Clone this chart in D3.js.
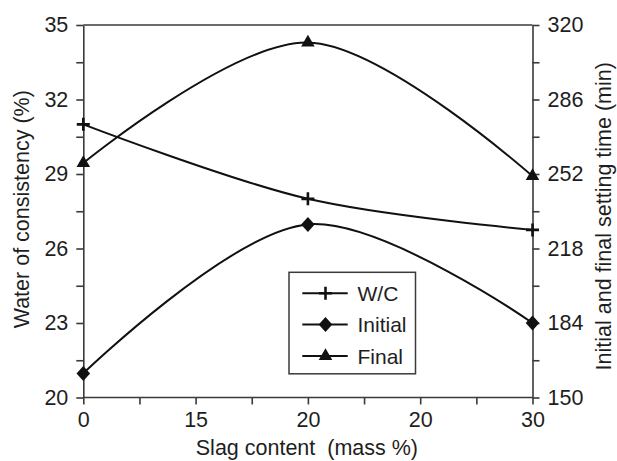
<!DOCTYPE html>
<html>
<head>
<meta charset="utf-8">
<script src="https://cdn.jsdelivr.net/npm/d3@7"></script>
<style>
  html, body { margin: 0; padding: 0; background: #fff; }
  svg { display: block; font-family: "Liberation Sans", Arial, Helvetica, sans-serif; }
  .axis path, .axis line { stroke: #3a3a3a; stroke-width: 1.6px; }
  .axis text { fill: #1e1e1e; font-size: 21.5px; font-family: "Liberation Sans", Arial, sans-serif; }
  .title { fill: #1e1e1e; font-size: 21.5px; white-space: pre; }
</style>
</head>
<body>
<svg id="chart" width="617" height="461"></svg>
<script>
// Slag content tick labels along the bottom axis (as printed)
const xTickLabels = ["0", "15", "20", "20", "30"];
// Tick index at which each measured sample sits
const sampleTick = [0, 2, 4];

// Water of consistency (%), left axis
const waterConsistency = [31, 28, 26.75];
// Initial setting time (min), right axis
const initialSetting = [161, 229, 184];
// Final setting time (min), right axis
const finalSetting = [257, 312, 251];

// Axis tick values
const leftTicks = [20, 23, 26, 29, 32, 35];
const rightTicks = [150, 184, 218, 252, 286, 320];

const svg = d3.select("#chart");
const L = 83.3, R = 532.5, T = 25, B = 397.5;

const x = d3.scaleLinear().domain([0, xTickLabels.length - 1]).range([L, R]);
const yLeft = d3.scaleLinear().domain([20, 35]).range([B, T]);
const yRight = d3.scaleLinear().domain([150, 320]).range([B, T]);

const tickLen = 7;

// Minor ticks at half steps
const xMinor = d3.range(0, xTickLabels.length - 1 + 0.001, 0.5);
const leftMinor = d3.range(20, 35.001, 1.5);
const rightMinor = d3.range(150, 320.001, 17);

// Bottom axis
const gx = svg.append("g").attr("class", "axis").attr("transform", `translate(0,${B})`)
  .call(d3.axisBottom(x).tickValues(xMinor).tickSizeInner(tickLen).tickSizeOuter(0).tickPadding(7)
    .tickFormat(d => Number.isInteger(d) ? xTickLabels[d] : ""));
gx.select(".domain").attr("d", `M${L},0H${R}`);

// Left axis
const gl = svg.append("g").attr("class", "axis").attr("transform", `translate(${L},0)`)
  .call(d3.axisLeft(yLeft).tickValues(leftMinor).tickSizeInner(tickLen).tickSizeOuter(0).tickPadding(8)
    .tickFormat(d => leftTicks.includes(Math.round(d * 10) / 10) ? d3.format("d")(d) : ""));

// Right axis
const gr = svg.append("g").attr("class", "axis").attr("transform", `translate(${R},0)`)
  .call(d3.axisRight(yRight).tickValues(rightMinor).tickSizeInner(tickLen).tickSizeOuter(0).tickPadding(8)
    .tickFormat(d => rightTicks.includes(Math.round(d)) ? d3.format("d")(d) : ""));

// Top frame line
svg.append("line").attr("x1", L).attr("x2", R).attr("y1", T).attr("y2", T)
  .attr("stroke", "#3a3a3a").attr("stroke-width", 1.6);

svg.selectAll(".axis .domain").attr("fill", "none");

// Series drawing
const series = [
  { name: "W/C", values: waterConsistency, y: yLeft, marker: "plus" },
  { name: "Initial", values: initialSetting, y: yRight, marker: "diamond" },
  { name: "Final", values: finalSetting, y: yRight, marker: "triangle" }
];

const line = d3.line().curve(d3.curveCatmullRom.alpha(0.5));

function markerPath(type) {
  if (type === "plus") return "M-6.5,0H6.5M0,-6.5V6.5";
  if (type === "diamond") return "M0,-7.5L6.8,0L0,7.5L-6.8,0Z";
  return d3.symbol().type(d3.symbolTriangle).size(80)();
}

function drawMarker(g, type, cx, cy) {
  const p = g.append("path").attr("d", markerPath(type)).attr("transform", `translate(${cx},${cy})`);
  if (type === "plus") p.attr("fill", "none").attr("stroke", "#111").attr("stroke-width", 2.6);
  else p.attr("fill", "#111").attr("stroke", "none");
}

const gSeries = svg.append("g");
series.forEach(s => {
  const pts = s.values.map((v, i) => [x(sampleTick[i]), s.y(v)]);
  gSeries.append("path").attr("d", line(pts)).attr("fill", "none")
    .attr("stroke", "#111").attr("stroke-width", 2);
  pts.forEach(p => drawMarker(gSeries, s.marker, p[0], p[1]));
});

// Legend
const lg = svg.append("g");
lg.append("rect").attr("x", 289).attr("y", 272.3).attr("width", 126.5).attr("height", 101.5)
  .attr("fill", "#fff").attr("stroke", "#3a3a3a").attr("stroke-width", 1.5);
const rowY = [293.3, 324.5, 356];
series.forEach((s, i) => {
  lg.append("line").attr("x1", 302.3).attr("x2", 347.7).attr("y1", rowY[i]).attr("y2", rowY[i])
    .attr("stroke", "#111").attr("stroke-width", 2);
  drawMarker(lg, s.marker, 325.5, rowY[i]);
  lg.append("text").attr("x", 357.5).attr("y", rowY[i]).attr("dy", "0.36em")
    .attr("class", "title").style("font-size", "21px").text(s.name);
});

// Axis titles
svg.append("text").attr("class", "title").attr("x", (L + R) / 2 - 1).attr("y", 455)
  .attr("text-anchor", "middle").text("Slag content  (mass %)");

svg.append("text").attr("class", "title")
  .attr("transform", `translate(29,${(T + B) / 2 - 2}) rotate(-90)`)
  .attr("text-anchor", "middle").text("Water of consistency (%)");

svg.append("text").attr("class", "title")
  .attr("transform", `translate(611,${(T + B) / 2 + 5}) rotate(-90)`)
  .attr("text-anchor", "middle").text("Initial and final setting time (min)");
</script>
</body>
</html>
